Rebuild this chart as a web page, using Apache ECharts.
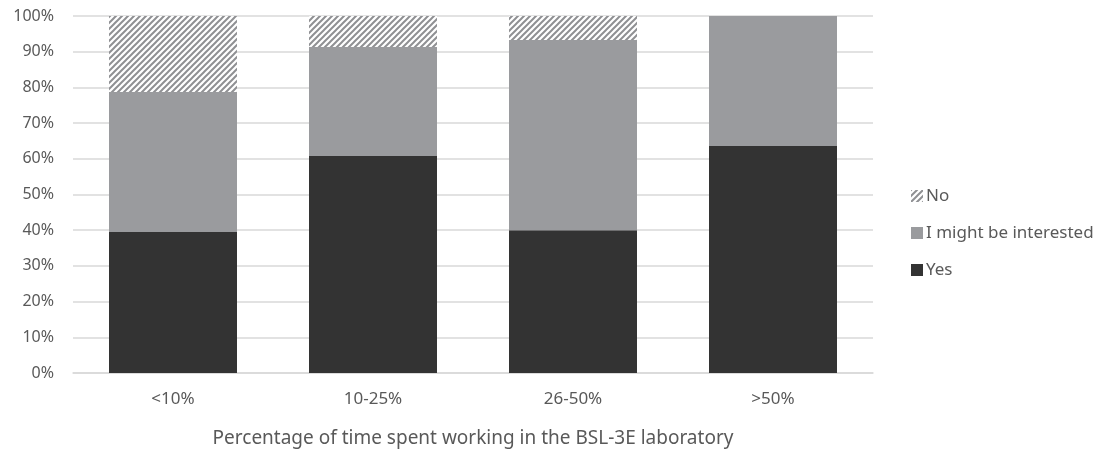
<!DOCTYPE html>
<html>
<head>
<meta charset="utf-8">
<script src="https://cdn.jsdelivr.net/npm/echarts@6/dist/echarts.min.js"></script>
<style>
  html, body { margin: 0; padding: 0; background: #ffffff; }
  #chart { width: 1105px; height: 450px; }
</style>
</head>
<body>
<div id="chart"></div>
<script>
// Share of respondents per time band (percent)
const categories = ['<10%', '10-25%', '26-50%', '>50%'];
const yesValues = [39.5, 60.8, 40.0, 63.6];
const interestedValues = [39.2, 30.5, 53.3, 36.4];
const noValues = [21.3, 8.7, 6.7, 0];
const yTicks = [0, 10, 20, 30, 40, 50, 60, 70, 80, 90, 100];

// Diagonal hatch tile for the "No" segments
function hatchTile() {
  const size = 6;
  const c = document.createElement('canvas');
  c.width = size; c.height = size;
  const ctx = c.getContext('2d');
  ctx.fillStyle = '#ffffff';
  ctx.fillRect(0, 0, size, size);
  ctx.strokeStyle = '#8f9093';
  ctx.lineWidth = 2;
  ctx.beginPath();
  ctx.moveTo(0, size); ctx.lineTo(size, 0);
  ctx.moveTo(-size / 2, size / 2); ctx.lineTo(size / 2, -size / 2);
  ctx.moveTo(size / 2, size * 1.5); ctx.lineTo(size * 1.5, size / 2);
  ctx.stroke();
  return c;
}

const chart = echarts.init(document.getElementById('chart'));
const font = "'Noto Sans', 'Open Sans', sans-serif";
const hatch = { image: hatchTile(), repeat: 'repeat' };

chart.setOption({
  animation: false,
  textStyle: { fontFamily: font },
  grid: { left: 73, right: 232, top: 16, bottom: 77, containLabel: false, outerBoundsMode: 'none' },
  legend: {
    orient: 'vertical',
    left: 906,
    top: 181,
    itemWidth: 12,
    itemHeight: 12,
    itemGap: 17,
    icon: 'rect',
    data: ['No', 'I might be interested', 'Yes'],
    textStyle: { fontSize: 17, lineHeight: 20, color: '#595959', fontFamily: font, padding: [0, 0, 0, -2] }
  },
  xAxis: {
    type: 'category',
    data: categories,
    name: 'Percentage of time spent working in the BSL-3E laboratory',
    nameLocation: 'middle',
    nameGap: 56,
    nameTextStyle: { fontSize: 19, color: '#595959', fontFamily: font },
    axisLine: { lineStyle: { color: '#d9d9d9', width: 1.5 } },
    axisTick: { show: false },
    axisLabel: { fontSize: 17, color: '#595959', margin: 18 }
  },
  yAxis: {
    type: 'value',
    min: yTicks[0],
    max: yTicks[yTicks.length - 1],
    interval: 10,
    axisLine: { show: false },
    axisTick: { show: false },
    splitLine: { lineStyle: { color: '#d9d9d9', width: 1.5 } },
    axisLabel: { fontSize: 16, color: '#595959', margin: 19, formatter: v => v + '%' }
  },
  series: [
    {
      name: 'Yes', type: 'bar', stack: 'total', barWidth: '64%',
      itemStyle: { color: '#333333' },
      data: yesValues
    },
    {
      name: 'I might be interested', type: 'bar', stack: 'total', barWidth: '64%',
      itemStyle: { color: '#9a9b9e' },
      data: interestedValues
    },
    {
      name: 'No', type: 'bar', stack: 'total', barWidth: '64%',
      itemStyle: { color: hatch },
      data: noValues
    }
  ]
});
</script>
</body>
</html>
